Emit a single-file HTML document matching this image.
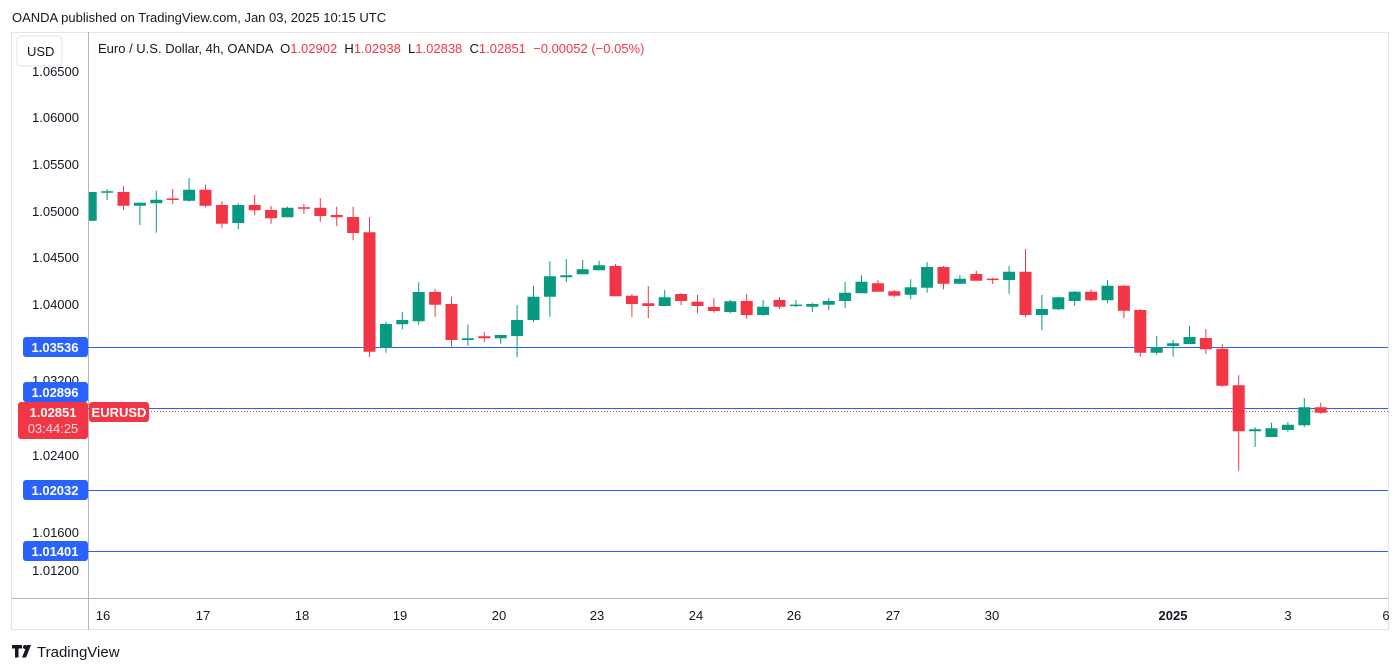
<!DOCTYPE html>
<html><head><meta charset="utf-8"><style>
html,body{margin:0;padding:0;background:#fff;width:1400px;height:672px;overflow:hidden;font-family:"Liberation Sans",sans-serif;}
</style></head><body>
<svg width="1400" height="672" xmlns="http://www.w3.org/2000/svg" font-family="Liberation Sans, sans-serif">
<rect width="1400" height="672" fill="#fff"/>
<text x="12" y="22" font-size="13" fill="#131722">OANDA published on TradingView.com, Jan 03, 2025 10:15 UTC</text>
<rect x="11.5" y="32.5" width="1377" height="597" fill="none" stroke="#e0e3eb"/>
<line x1="88.5" y1="32" x2="88.5" y2="630" stroke="#b2b5be"/>
<line x1="12" y1="598.5" x2="1388" y2="598.5" stroke="#b2b5be"/>
<g font-size="13" fill="#131722" text-anchor="end">
<text x="79" y="76">1.06500</text>
<text x="79" y="122">1.06000</text>
<text x="79" y="169">1.05500</text>
<text x="79" y="216">1.05000</text>
<text x="79" y="262">1.04500</text>
<text x="79" y="309">1.04000</text>
<text x="79" y="385">1.03200</text>
<text x="79" y="460">1.02400</text>
<text x="79" y="537">1.01600</text>
<text x="79" y="575">1.01200</text>
</g>
<rect x="17" y="36" width="45" height="30" rx="4" fill="#fff" stroke="#e0e3eb"/>
<text x="27" y="56" font-size="13" fill="#131722">USD</text>
<text x="98" y="53" font-size="13" fill="#131722" xml:space="preserve">Euro / U.S. Dollar, 4h, OANDA  O<tspan fill="#F23645">1.02902</tspan>  H<tspan fill="#F23645">1.02938</tspan>  L<tspan fill="#F23645">1.02838</tspan>  C<tspan fill="#F23645">1.02851</tspan>  <tspan fill="#F23645">−0.00052 (−0.05%)</tspan></text>
<g stroke="#2962FF" stroke-width="1">
<line x1="88" y1="347.5" x2="1388" y2="347.5"/>
<line x1="88" y1="408.5" x2="1388" y2="408.5"/>
<line x1="88" y1="490.5" x2="1388" y2="490.5"/>
<line x1="88" y1="551.5" x2="1388" y2="551.5"/>
</g>
<line x1="148" y1="411.5" x2="1388" y2="411.5" stroke="#F23645" stroke-dasharray="1,2"/>
<path fill="none" stroke="#089981" stroke-width="1" d="M90.7 192V221M107.1 189.3V200M139.9 202.7V225M156.3 190.7V232.7M189.1 178V201.7M238.3 203.3V229.3M287.5 206.7V217.3M385.9 321.7V352.7M402.3 312V329.3M418.7 282.3V324.7M467.9 324.7V345.7M500.7 335V343.7M517.1 305V357.3M533.5 285.7V322M549.9 261.3V316.7M566.3 259V282.3M582.7 260V274.3M599.1 260.7V270.3M664.7 290V306M730.3 300V313.3M763.1 300V316M795.9 300V307M812.3 302.7V312M828.7 298V310M845.1 281.7V308M861.5 275.3V293.3M910.7 279.3V299M927.1 262V292.7M959.9 275V283.7M1009.1 266V294M1041.9 295V330M1058.3 296.7V310M1074.7 291V306M1107.5 280V303.3M1156.7 336V354.7M1173.1 340V356.7M1189.5 326V344M1255.1 427.3V447M1271.5 422.7V437M1287.9 422V431.7M1304.3 398V427.3"/>
<path fill="#089981" d="M89 192h7.7v28.7h-7.7zM101.1 191.3h12v1.5h-12zM133.9 202.7h12v3h-12zM150.3 199.7h12v3.6h-12zM183.1 189.7h12v11h-12zM232.3 205h12v18h-12zM281.5 207.7h12v9.6h-12zM379.9 324h12v23.7h-12zM396.3 320h12v4.3h-12zM412.7 292h12v29.3h-12zM461.9 338.3h12v1.7h-12zM494.7 335h12v3.3h-12zM511.1 320h12v16h-12zM527.5 296.7h12v23.3h-12zM543.9 276.3h12v20.4h-12zM560.3 275.3h12v2h-12zM576.7 269.3h12v5h-12zM593.1 265.3h12v5h-12zM658.7 297.3h12v8.7h-12zM724.3 301.3h12v10.7h-12zM757.1 306.7h12v8.3h-12zM789.9 304.6h12v1.5h-12zM806.3 304h12v2.7h-12zM822.7 301h12v3.7h-12zM839.1 292.7h12v8.3h-12zM855.5 281.7h12v11.6h-12zM904.7 287.3h12v7.4h-12zM921.1 267h12v20.7h-12zM953.9 278.7h12v5h-12zM1003.1 271.7h12v8.3h-12zM1035.9 309h12v6h-12zM1052.3 297.3h12v12h-12zM1068.7 291.7h12v9.3h-12zM1101.5 285.7h12v14.6h-12zM1150.7 347.3h12v5.4h-12zM1167.1 343.3h12v2.7h-12zM1183.5 337h12v7h-12zM1249.1 429.3h12v2h-12zM1265.5 428.3h12v8.7h-12zM1281.9 424.7h12v5.3h-12zM1298.3 407.3h12v18h-12z"/>
<path fill="none" stroke="#F23645" stroke-width="1" d="M123.5 186V210M172.7 189V204.3M205.5 185V207.3M221.9 201.3V227.7M254.7 194.7V215.3M271.1 206V223.7M303.9 204V213.7M320.3 198V221.7M336.7 206.7V226M353.1 206.7V240.3M369.5 217V356.7M435.1 289V316.7M451.5 296.7V346.7M484.3 332V342M615.5 264V296.3M631.9 294V316.7M648.3 286V318.3M681.1 293.3V305M697.5 295V313.3M713.9 298.3V312.7M746.7 294V318.7M779.5 297V309M877.9 280V291.7M894.3 290V297.3M943.5 266V289.3M976.3 270.7V280.7M992.7 277.7V284M1025.5 249V317.3M1091.1 289.3V301M1123.9 285V318.3M1140.3 309V356.7M1205.9 329V354M1222.3 344V386.7M1238.7 375.3V470.7M1320.7 403V413.7"/>
<path fill="#F23645" d="M117.5 192h12v13.7h-12zM166.7 198.5h12v1.5h-12zM199.5 189.7h12v16h-12zM215.9 205h12v18.7h-12zM248.7 205h12v5.3h-12zM265.1 210h12v8.3h-12zM297.9 207.3h12v1.5h-12zM314.3 207.7h12v8.3h-12zM330.7 215h12v2.3h-12zM347.1 217h12v16h-12zM363.5 232.3h12v119.4h-12zM429.1 292h12v12.7h-12zM445.5 304h12v36h-12zM478.3 336.3h12v2h-12zM609.5 266h12v30.3h-12zM625.9 295.7h12v8.3h-12zM642.3 303.3h12v2.7h-12zM675.1 294h12v7h-12zM691.5 301.7h12v4.3h-12zM707.9 307h12v4h-12zM740.7 301h12v14h-12zM773.5 300h12v6.7h-12zM871.9 283.3h12v8.4h-12zM888.3 291.3h12v4.4h-12zM937.5 267h12v16.7h-12zM970.3 274h12v6.7h-12zM986.7 278.6h12v1.5h-12zM1019.5 271.7h12v43.3h-12zM1085.1 291.7h12v8.6h-12zM1117.9 285.7h12v25h-12zM1134.3 310h12v42.7h-12zM1199.9 338h12v11.3h-12zM1216.3 348.7h12v37h-12zM1232.7 385.3h12v46h-12zM1314.7 407.3h12v5.4h-12z"/>
<g font-size="13" fill="#fff" font-weight="bold" text-anchor="middle">
<rect x="23" y="337" width="65" height="20" rx="3" fill="#2962FF"/><text x="55" y="352">1.03536</text>
<rect x="23" y="382" width="65" height="20" rx="3" fill="#2962FF"/><text x="55" y="397">1.02896</text>
<rect x="18" y="402" width="70" height="37" rx="3" fill="#F23645"/><text x="53" y="417">1.02851</text>
<text x="53" y="433" font-weight="normal" fill="#ffd9dc">03:44:25</text>
<rect x="89" y="402" width="60" height="20" rx="3" fill="#F23645"/><text x="119" y="417">EURUSD</text>
<rect x="23" y="480" width="65" height="20" rx="3" fill="#2962FF"/><text x="55" y="495">1.02032</text>
<rect x="23" y="541" width="65" height="20" rx="3" fill="#2962FF"/><text x="55" y="556">1.01401</text>
</g>
<g font-size="13" fill="#131722" text-anchor="middle">
<text x="103" y="620">16</text><text x="203" y="620">17</text><text x="302" y="620">18</text><text x="400" y="620">19</text><text x="499" y="620">20</text><text x="597" y="620">23</text><text x="696" y="620">24</text><text x="794" y="620">26</text><text x="893" y="620">27</text><text x="992" y="620">30</text><text x="1173" y="620" font-weight="bold">2025</text><text x="1288" y="620">3</text><text x="1386" y="620">6</text>
</g>
<path d="M12 645h10v3.5h-3.5v9h-3.5v-9h-3zM27 645h4l-5 12.5h-4z" fill="#131722"/>
<circle cx="25" cy="647" r="2" fill="#131722"/>
<text x="37" y="657" font-size="15" fill="#131722">TradingView</text>
</svg>
</body></html>
